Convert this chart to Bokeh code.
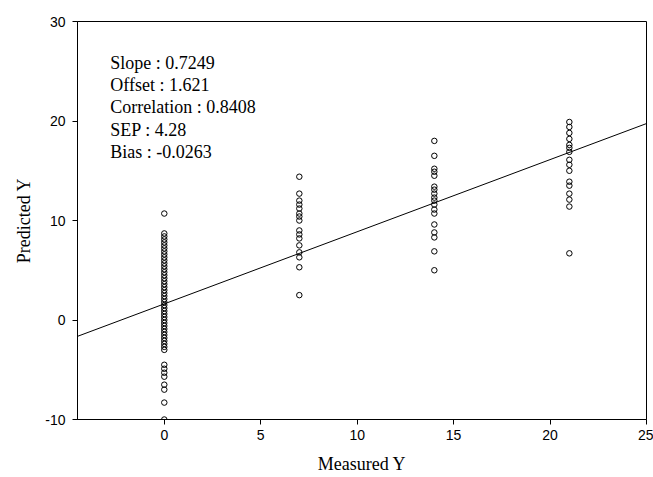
from bokeh.plotting import figure
from bokeh.models import Range1d, Label, FixedTicker, PrintfTickFormatter
from bokeh.embed import file_html
from bokeh.resources import INLINE

# Data
y_at_0 = [10.7, 8.7, 8.4, 8.1, 7.8, 7.5, 7.2, 6.9, 6.6, 6.3, 6.0, 5.7, 5.4, 5.1, 4.8,
          4.5, 4.2, 3.9, 3.6, 3.3, 3.0, 2.7, 2.4, 2.1, 1.8, 1.5, 1.2, 0.9, 0.6, 0.3,
          0.0, -0.3, -0.6, -0.9, -1.2, -1.5, -1.8, -2.1, -2.4, -2.7, -3.0,
          -4.5, -4.9, -5.3, -5.7, -6.5, -7.0, -8.3, -10.0]
y_at_7 = [14.4, 12.7, 12.0, 11.6, 11.2, 10.7, 10.4, 10.0, 9.0, 8.6, 8.2, 7.5, 6.8, 6.3, 5.3, 2.5]
y_at_14 = [18.0, 16.5, 15.2, 14.9, 14.5, 13.4, 13.1, 12.7, 12.3, 12.0, 11.6, 11.1, 10.7,
           9.6, 8.8, 8.3, 6.9, 5.0]
y_at_21 = [19.9, 19.4, 18.8, 18.2, 17.6, 17.3, 16.9, 16.1, 15.6, 15.0, 13.9, 13.5, 12.7,
           12.1, 11.4, 6.7]

measured = [0.0] * len(y_at_0) + [7.0] * len(y_at_7) + [14.0] * len(y_at_14) + [21.0] * len(y_at_21)
predicted = y_at_0 + y_at_7 + y_at_14 + y_at_21

slope = 0.7249
offset = 1.621
x_range = [-4.5, 25.0]
y_range = [-10.0, 30.0]
fit_x = x_range
fit_y = [slope * v + offset for v in fit_x]

stats_lines = ["Slope : 0.7249", "Offset : 1.621", "Correlation : 0.8408", "SEP : 4.28", "Bias : -0.0263"]
x_ticks = [0, 5, 10, 15, 20, 25]
y_ticks = [-10, 0, 10, 20, 30]

p = figure(width=653, height=477, output_backend="svg", toolbar_location=None,
           x_range=Range1d(*x_range), y_range=Range1d(*y_range),
           min_border_left=77, min_border_right=7, min_border_top=21, min_border_bottom=58)
p.grid.visible = False
p.background_fill_color = "white"
p.border_fill_color = "white"
p.outline_line_color = "black"
p.outline_line_width = 1

p.line(fit_x, fit_y, line_color="black", line_width=1)
p.scatter(measured, predicted, marker="circle", size=5.5, fill_color=None,
          line_color="black", line_width=1)

for ax in (p.xaxis[0], p.yaxis[0]):
    ax.axis_line_color = "black"
    ax.major_tick_line_color = "black"
    ax.minor_tick_line_color = None
    ax.major_tick_out = 5
    ax.major_tick_in = 0
    ax.major_label_text_font = "Liberation Sans"
    ax.major_label_text_font_size = "14px"
    ax.major_label_text_color = "black"
    ax.axis_label_text_font = "Liberation Serif"
    ax.axis_label_text_font_size = "18px"
    ax.axis_label_text_font_style = "normal"
    ax.axis_label_text_color = "black"
    ax.formatter = PrintfTickFormatter(format="%d")

p.xaxis.ticker = FixedTicker(ticks=x_ticks)
p.yaxis.ticker = FixedTicker(ticks=y_ticks)
p.xaxis.axis_label = "Measured Y"
p.yaxis.axis_label = "Predicted Y"
p.xaxis.major_label_standoff = 5
p.yaxis.major_label_standoff = 7
p.xaxis.axis_label_standoff = 11
p.yaxis.axis_label_standoff = 8

label_x = -2.8
label_y0 = 25.8
label_step = 2.22
for i, t in enumerate(stats_lines):
    p.add_layout(Label(x=label_x, y=label_y0 - i * label_step, text=t,
                       text_font="Liberation Serif", text_font_size="18px",
                       text_color="black", text_baseline="middle", text_align="left"))

open("out.html", "w").write(file_html(p, INLINE))
